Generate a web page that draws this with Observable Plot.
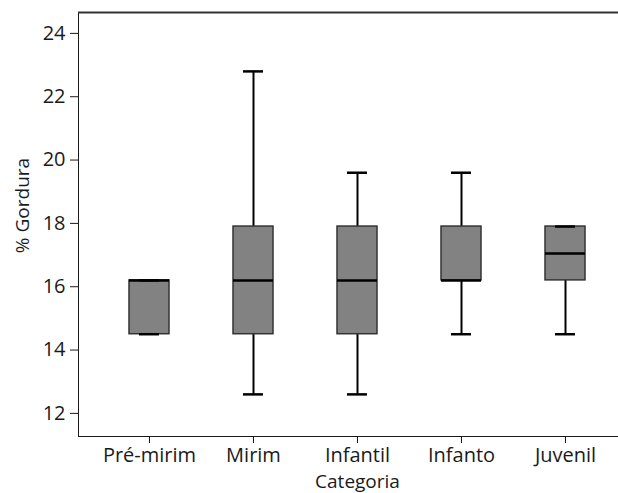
<!DOCTYPE html>
<html><head><meta charset="utf-8">
<script src="https://cdn.jsdelivr.net/npm/d3@7"></script>
<script src="https://cdn.jsdelivr.net/npm/@observablehq/plot@0.6"></script>
<style>body{margin:0;background:#fff}</style>
</head><body><div id="chart"></div>
<script>
const categorias = ["Pré-mirim", "Mirim", "Infantil", "Infanto", "Juvenil"];
const minimo  = [14.5, 12.6, 12.6, 14.5, 14.5];
const q1      = [14.5, 14.5, 14.5, 16.2, 16.2];
const mediana = [16.2, 16.2, 16.2, 16.2, 17.05];
const q3      = [16.2, 17.9, 17.9, 17.9, 17.9];
const maximo  = [16.2, 22.8, 19.6, 19.6, 17.9];
const yTicks  = [12, 14, 16, 18, 20, 22, 24];
const yDomain = [11.27, 24.66];

const rows = categorias.map((c, i) => ({
  categoria: c, min: minimo[i], q1: q1[i], med: mediana[i], q3: q3[i], max: maximo[i]
}));

const chart = Plot.plot({
  width: 618,
  height: 493,
  marginLeft: 78,
  marginRight: 0,
  marginTop: 12,
  marginBottom: 57,
  style: {fontFamily: "'Open Sans', sans-serif", fontSize: "20px", fontWeight: 400, color: "#1a1a1a", background: "#fff"},
  x: {domain: categorias, range: [62.3, 650.5], padding: 0.618, label: null,
      tickSize: 7, tickPadding: 4, line: true},
  y: {domain: yDomain, ticks: yTicks, tickSize: 8, tickPadding: 5, label: null, line: true},
  marks: [
    Plot.ruleY([yDomain[1]], {stroke: "#333", strokeWidth: 2}),
    Plot.ruleX(rows, {x: "categoria", y1: "q3", y2: "max", stroke: "#000", strokeWidth: 2}),
    Plot.ruleX(rows, {x: "categoria", y1: "min", y2: "q1", stroke: "#000", strokeWidth: 2}),
    Plot.barY(rows, {x: "categoria", y1: "q1", y2: "q3", fill: "#828282", stroke: "#333", strokeWidth: 1.5}),
    Plot.tickY(rows, {x: "categoria", y: "med", stroke: "#000", strokeWidth: 2.5}),
    Plot.tickY(rows, {x: "categoria", y: "max", stroke: "#000", strokeWidth: 2.5, inset: 10}),
    Plot.tickY(rows, {x: "categoria", y: "min", stroke: "#000", strokeWidth: 2.5, inset: 10}),
    Plot.text(["% Gordura"], {frameAnchor: "left", dx: -56, dy: -19, rotate: -90,
      textAnchor: "middle", lineAnchor: "middle", fontSize: 19, fill: "#1a1a1a"}),
    Plot.text(["Categoria"], {x: () => categorias[2], frameAnchor: "bottom", dy: 51,
      textAnchor: "middle", lineAnchor: "bottom", fontSize: 19, fill: "#1a1a1a"})
  ]
});
document.getElementById("chart").appendChild(chart);
</script>
</body></html>
